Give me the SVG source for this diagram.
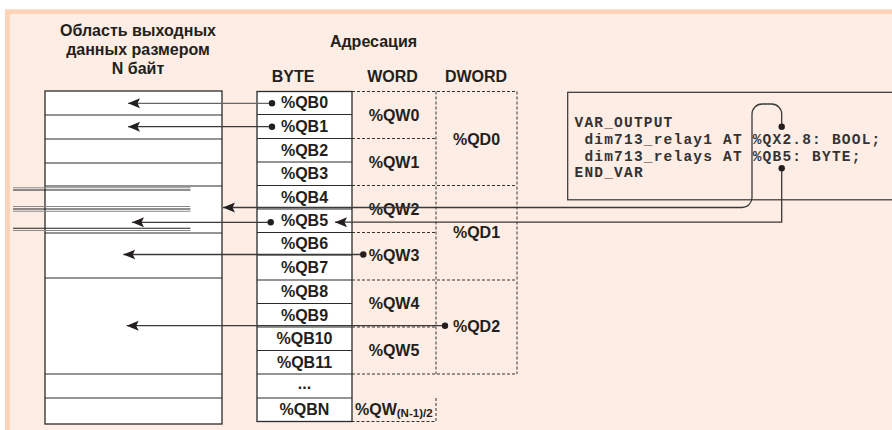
<svg xmlns="http://www.w3.org/2000/svg" width="892" height="430" viewBox="0 0 892 430">
<defs>
<style>
.t{font-family:"Liberation Sans","DejaVu Sans",sans-serif;font-weight:bold;font-size:16px;fill:#231f20;text-anchor:middle}
.code{font-family:"Liberation Mono","DejaVu Sans Mono",monospace;font-weight:bold;font-size:14.5px;letter-spacing:1.2px;fill:#333}
.box{fill:#fff;stroke:#2b2b2b;stroke-width:1.3}
.row{stroke:#2b2b2b;stroke-width:1.2}
.dash{stroke:#333;stroke-width:1;stroke-dasharray:3 2;fill:none}
.con{fill:none;stroke:#3a3a3a;stroke-width:1.3}
.dot{fill:#231f20}
.busg{stroke:#8a8a8a;stroke-width:1.1}
.busb{stroke:#222;stroke-width:1.1}
</style>
<marker id="arr" markerUnits="userSpaceOnUse" markerWidth="13" markerHeight="11" viewBox="0 -5.5 13 11" refX="12" refY="0" orient="auto">
<path d="M0,-5 L12,0 L0,5 L2.5,0 z" fill="#231f20"/>
</marker>
</defs>
<rect x="0" y="0" width="892" height="430" fill="#ffffff"/>
<rect x="5" y="9.3" width="887" height="421" fill="#fdd4b7"/>
<rect x="10" y="14" width="882" height="416" fill="#fdede4"/>

<g id="titles">
<text class="t" x="138" y="36">Область выходных</text>
<text class="t" x="138" y="55">данных размером</text>
<text class="t" x="138" y="74">N байт</text>
<text class="t" x="373.5" y="46.5">Адресация</text>
<text class="t" x="293" y="81.5">BYTE</text>
<text class="t" x="392.5" y="81.5">WORD</text>
<text class="t" x="476" y="81.5">DWORD</text>
</g>

<g id="output-area">
<rect class="box" x="45" y="91" width="177" height="333"/>
<line class="row" x1="45" y1="115" x2="222" y2="115"/>
<line class="row" x1="45" y1="139" x2="222" y2="139"/>
<line class="row" x1="45" y1="163" x2="222" y2="163"/>
<line class="row" x1="45" y1="186" x2="222" y2="186"/>
<line class="row" x1="45" y1="233" x2="222" y2="233"/>
<line class="row" x1="45" y1="278" x2="222" y2="278"/>
<line class="row" x1="45" y1="374" x2="222" y2="374"/>
<line class="row" x1="45" y1="398" x2="222" y2="398"/>
</g>

<g id="bus-lines">
<line class="busg" x1="13" y1="187.8" x2="190.5" y2="187.8"/>
<line class="busb" x1="13" y1="190" x2="190.5" y2="190"/>
<line class="busg" x1="13" y1="206.5" x2="190.5" y2="206.5"/>
<line class="busb" x1="13" y1="209" x2="190.5" y2="209"/>
<line class="busg" x1="13" y1="211.3" x2="190.5" y2="211.3"/>
<line class="busb" x1="13" y1="228.2" x2="190.5" y2="228.2"/>
<line class="busg" x1="13" y1="230.5" x2="190.5" y2="230.5"/>
</g>

<g id="byte-column">
<rect class="box" x="257" y="91.5" width="95" height="330"/>
<line class="row" x1="257" y1="114.5" x2="352" y2="114.5"/>
<line class="row" x1="257" y1="138.5" x2="352" y2="138.5"/>
<line class="row" x1="257" y1="162" x2="352" y2="162"/>
<line class="row" x1="257" y1="185.5" x2="352" y2="185.5"/>
<line class="row" x1="257" y1="209" x2="352" y2="209"/>
<line class="row" x1="257" y1="232.5" x2="352" y2="232.5"/>
<line class="row" x1="257" y1="255" x2="352" y2="255"/>
<line class="row" x1="257" y1="280" x2="352" y2="280"/>
<line class="row" x1="257" y1="303.5" x2="352" y2="303.5"/>
<line class="row" x1="257" y1="327" x2="352" y2="327"/>
<line class="row" x1="257" y1="350.5" x2="352" y2="350.5"/>
<line class="row" x1="257" y1="374" x2="352" y2="374"/>
<line class="row" x1="257" y1="398" x2="352" y2="398"/>
<text class="t" x="304.5" y="108.3">%QB0</text>
<text class="t" x="304.5" y="131.8">%QB1</text>
<text class="t" x="304.5" y="155.5">%QB2</text>
<text class="t" x="304.5" y="179">%QB3</text>
<text class="t" x="304.5" y="202.5">%QB4</text>
<text class="t" x="304.5" y="226">%QB5</text>
<text class="t" x="304.5" y="249.3">%QB6</text>
<text class="t" x="304.5" y="273">%QB7</text>
<text class="t" x="304.5" y="297">%QB8</text>
<text class="t" x="304.5" y="320.5">%QB9</text>
<text class="t" x="304.5" y="344">%QB10</text>
<text class="t" x="304.5" y="367.5">%QB11</text>
<text class="t" x="304.5" y="389">...</text>
<text class="t" x="304.5" y="415">%QBN</text>
</g>

<g id="word-column">
<path class="dash" d="M352,91.5 H517 M436,91.5 V374 M517,91.5 V374 M352,138.5 H436 M352,185.5 H517 M352,232.5 H436 M352,280 H517 M352,327 H436 M352,374 H517 M436,398 V421.5 H352"/>
<text class="t" x="394" y="121">%QW0</text>
<text class="t" x="394" y="168">%QW1</text>
<text class="t" x="394" y="215">%QW2</text>
<text class="t" x="394" y="261">%QW3</text>
<text class="t" x="394" y="308.5">%QW4</text>
<text class="t" x="394" y="355.5">%QW5</text>
<text class="t" x="355" y="414.5" style="text-anchor:start">%QW<tspan font-size="11.5" dy="2">(N-1)/2</tspan></text>
</g>

<g id="dword-column">
<text class="t" x="476.5" y="144.5">%QD0</text>
<text class="t" x="476.5" y="237.5">%QD1</text>
<text class="t" x="476.5" y="331.5">%QD2</text>
</g>

<g id="code-box">
<rect x="567.7" y="92.3" width="340" height="107.5" fill="none" stroke="#333" stroke-width="1.2"/>
<text class="code" x="574.5" y="126.5">VAR_OUTPUT</text>
<text class="code" x="584.4" y="143.5">dim713_relay1 AT %QX2.8: BOOL;</text>
<text class="code" x="584.4" y="160.5">dim713_relays AT %QB5: BYTE;</text>
<text class="code" x="574.5" y="177">END_VAR</text>
</g>

<g id="connectors">
<line class="con" x1="272" y1="103.3" x2="128" y2="103.3" marker-end="url(#arr)" style="stroke:#666"/>
<line class="con" x1="272" y1="126.7" x2="128" y2="126.7" marker-end="url(#arr)"/>
<path class="con" d="M781.7,126.7 V114 A10,10 0 0 0 771.7,104 H762 A10,10 0 0 0 752,114 V197 A10,10 0 0 1 742,207.5 H223" marker-end="url(#arr)"/>
<path class="con" d="M781.7,168.3 V222.2 H335" marker-end="url(#arr)"/>
<line class="con" x1="270.7" y1="222.3" x2="132" y2="222.3" marker-end="url(#arr)"/>
<line class="con" x1="363.3" y1="254.5" x2="123.3" y2="254.5" marker-end="url(#arr)"/>
<line class="con" x1="445" y1="325.7" x2="126.7" y2="325.7" marker-end="url(#arr)"/>
<circle class="dot" cx="272" cy="103.3" r="3.2"/>
<circle class="dot" cx="272" cy="126.7" r="3.2"/>
<circle class="dot" cx="781.7" cy="126.7" r="3.2"/>
<circle class="dot" cx="781.7" cy="168.3" r="3.2"/>
<circle class="dot" cx="270.7" cy="222.3" r="3.2"/>
<circle class="dot" cx="363.3" cy="254.5" r="3.2"/>
<circle class="dot" cx="445" cy="325.7" r="3.2"/>
</g>
</svg>
